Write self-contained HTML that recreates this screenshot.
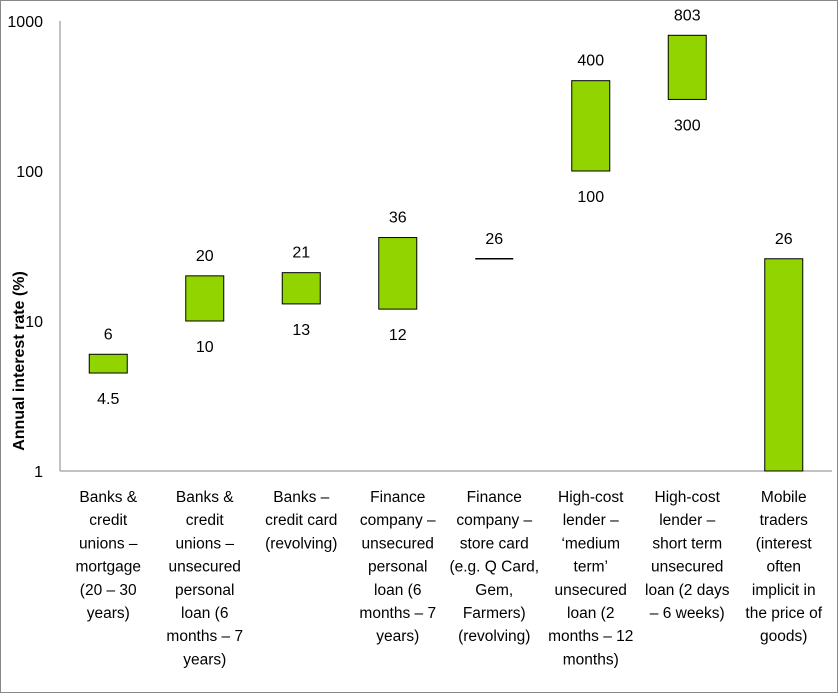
<!DOCTYPE html>
<html><head><meta charset="utf-8"><style>
body{margin:0;background:#fff;}
svg{display:block;font-family:"Liberation Sans",sans-serif;}
</style></head><body>
<svg id="c" width="838" height="693">
<rect x="0.5" y="0.5" width="837" height="692" fill="#fff" stroke="#888"/>
<g id="g"></g>
</svg>
<script>
const categories=[
["Banks &","credit","unions –","mortgage","(20 – 30","years)"],
["Banks &","credit","unions –","unsecured","personal","loan (6","months – 7","years)"],
["Banks –","credit card","(revolving)"],
["Finance","company –","unsecured","personal","loan (6","months – 7","years)"],
["Finance","company –","store card","(e.g. Q Card,","Gem,","Farmers)","(revolving)"],
["High-cost","lender –","‘medium","term’","unsecured","loan (2","months – 12","months)"],
["High-cost","lender –","short term","unsecured","loan (2 days","– 6 weeks)"],
["Mobile","traders","(interest","often","implicit in","the price of","goods)"]];
const lowValues=[4.5,10,13,12,26,100,300,1];
const highValues=[6,20,21,36,26,400,803,26];
const lowLabels=["4.5","10","13","12","","100","300",""];
const highLabels=["6","20","21","36","26","400","803","26"];
const yTicks=[1,10,100,1000];
const NS="http://www.w3.org/2000/svg",g=document.getElementById('g');
const L=60,R=832,T=21,B=471;
const y=v=>B-(B-T)*Math.log10(v)/3;
const cw=(R-L)/categories.length,x=i=>L+cw*(i+0.5);
function el(t,a,txt){const e=document.createElementNS(NS,t);for(const k in a)e.setAttribute(k,a[k]);if(txt!==undefined)e.textContent=txt;g.appendChild(e);return e;}
let e=el('line',{x1:L,y1:T,x2:L,y2:B,stroke:'#868686'});

e=el('line',{x1:L,y1:B,x2:R,y2:B,stroke:'#868686'});

yTicks.forEach(v=>{const t=el('text',{x:43,y:y(v)+6,'text-anchor':'end','font-size':16,fill:'#000'},String(v));
});
e=el('text',{transform:'translate(24,361) rotate(-90)','text-anchor':'middle','font-size':16,'font-weight':'bold'},'Annual interest rate (%)');

categories.forEach((lines,i)=>{
 const cx=x(i),lo=lowValues[i],hi=highValues[i];
 if(lo===hi){const l=el('line',{x1:cx-19,x2:cx+19,y1:y(hi),y2:y(hi),stroke:'#000','stroke-width':1.5});
  }
 else{const r=el('rect',{x:cx-19,y:y(hi),width:38,height:y(lo)-y(hi),fill:'#92d400',stroke:'#000','stroke-width':1});
  }
 const h=el('text',{x:cx,y:y(hi)-15,'text-anchor':'middle','font-size':16},highLabels[i]);
 
 if(lowLabels[i]){const lw=el('text',{x:cx,y:y(lo)+31,'text-anchor':'middle','font-size':16},lowLabels[i]);
  }
 lines.forEach((s,j)=>{const t=el('text',{x:cx,y:502+j*23.2,'text-anchor':'middle','font-size':15.5},s);
  });
});
</script>
</body></html>
